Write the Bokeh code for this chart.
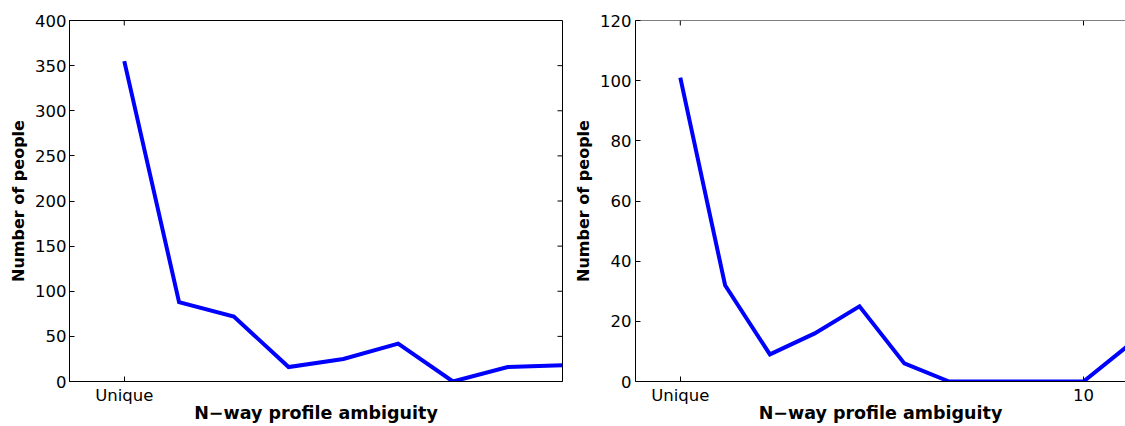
import math
from bokeh.plotting import figure
from bokeh.models import FixedTicker, Range1d, Span
from bokeh.layouts import row
from bokeh.embed import file_html
from bokeh.resources import INLINE

# ---- data ----
left_x = [1, 2, 3, 4, 5, 6, 7, 8, 9]
left_counts = [355, 88, 72, 16, 25, 42, 0, 16, 18]
right_x = [1, 2, 3, 4, 5, 6, 7, 8, 9, 10, 11]
right_counts = [101, 32, 9, 16, 25, 6, 0, 0, 0, 0, 12]
left_y_ticks = [0, 50, 100, 150, 200, 250, 300, 350, 400]
right_y_ticks = [0, 20, 40, 60, 80, 100, 120]
left_x_ticks = [1]
right_x_ticks = [1, 10]
x_tick_overrides = {1: "Unique"}
x_label = "N\u2212way profile ambiguity"
y_label = "Number of people"

FONT = "DejaVu Sans"
TICK_FS = "16.5px"


def style_axis(ax):
    ax.axis_line_color = "black"
    ax.axis_line_width = 1
    ax.major_tick_in = 5
    ax.major_tick_out = 0
    ax.minor_tick_in = 0
    ax.minor_tick_out = 0
    ax.major_tick_line_color = "black"
    ax.major_tick_line_width = 1
    ax.major_label_text_font = FONT
    ax.major_label_text_font_size = TICK_FS
    ax.major_label_text_color = "black"


def make(xs, ys, x_end, y_end, xticks, yticks, width, mbl, mbr, ylab_standoff,
         ytick_standoff, boxed):
    p = figure(width=width, height=426, output_backend="svg", toolbar_location=None,
               x_range=Range1d(0, x_end), y_range=Range1d(0, y_end),
               min_border_left=mbl, min_border_right=mbr, min_border_top=20,
               min_border_bottom=45)
    p.grid.visible = False
    p.background_fill_color = "white"
    p.border_fill_color = "white"
    if boxed:
        p.outline_line_color = "black"
        p.outline_line_width = 1
        p.outline_line_alpha = 1.0
    else:
        p.outline_line_color = None
        p.add_layout(Span(location=y_end, dimension="width", line_color="black",
                          line_width=1))

    xa = p.xaxis[0]
    xa.ticker = FixedTicker(ticks=xticks)
    xa.major_label_overrides = x_tick_overrides
    style_axis(xa)
    xa.major_label_standoff = 4
    xa.axis_label = x_label
    xa.axis_label_text_font = FONT
    xa.axis_label_text_font_size = "17.5px"
    xa.axis_label_text_font_style = "bold"
    xa.axis_label_text_color = "black"
    xa.axis_label_standoff = -5

    ya = p.yaxis[0]
    ya.ticker = FixedTicker(ticks=yticks)
    style_axis(ya)
    ya.major_label_standoff = ytick_standoff
    ya.axis_label = y_label
    ya.axis_label_text_font = FONT
    ya.axis_label_text_font_size = "16px"
    ya.axis_label_text_font_style = "bold"
    ya.axis_label_text_color = "black"
    ya.axis_label_standoff = ylab_standoff

    # mirrored inward ticks on the top edge (and right edge when boxed)
    p.ray(x=xticks, y=[y_end] * len(xticks), length=5, length_units="screen",
          angle=-math.pi / 2, line_color="black", line_width=1)
    if boxed:
        p.ray(x=[x_end] * len(yticks), y=yticks, length=5, length_units="screen",
              angle=math.pi, line_color="black", line_width=1)

    p.line(xs, ys, line_color="#0000ff", line_width=4, line_join="miter")
    return p


p1 = make(left_x, left_counts, 9, 400, left_x_ticks, left_y_ticks,
          width=570, mbl=69, mbr=8, ylab_standoff=4, ytick_standoff=3, boxed=True)
p2 = make(right_x, right_counts, 490 / 44.8, 120, right_x_ticks, right_y_ticks,
          width=555, mbl=65, mbr=0, ylab_standoff=4, ytick_standoff=4, boxed=False)

layout = row(p1, p2)
open("out.html", "w").write(file_html(layout, INLINE))
